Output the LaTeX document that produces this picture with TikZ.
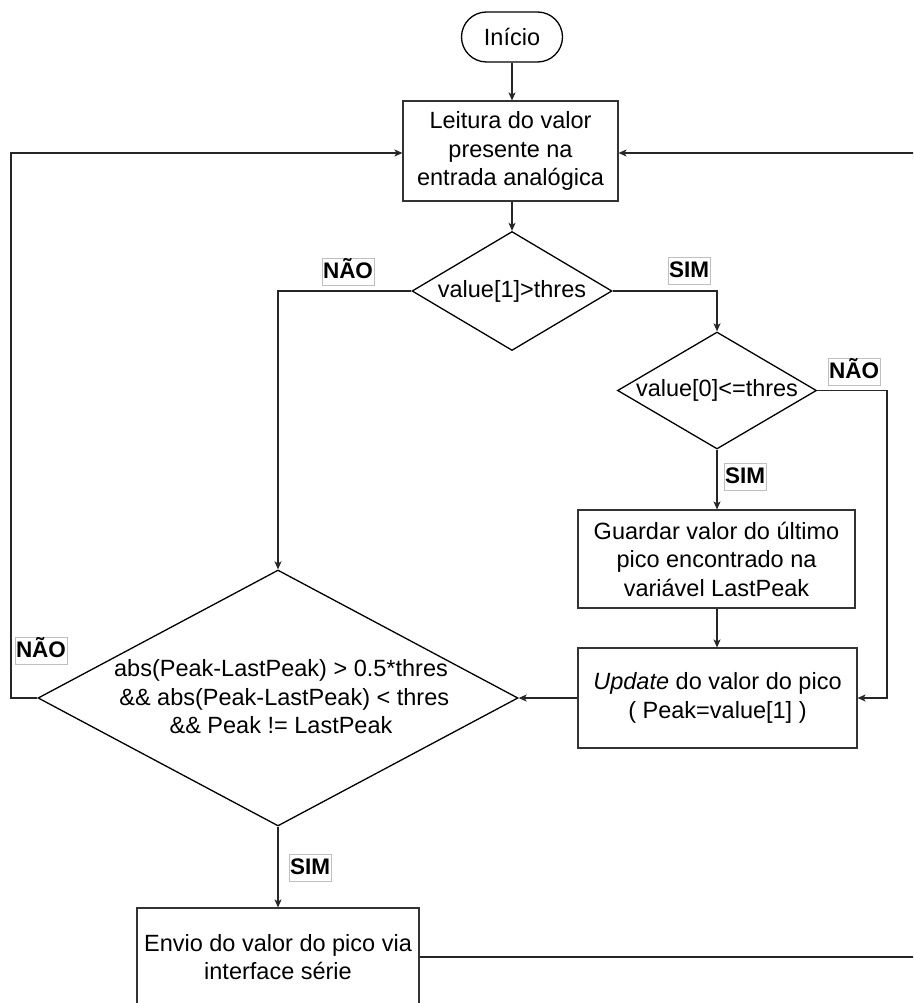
\documentclass[tikz,border=0pt]{standalone}
\usepackage{fontspec}
\setmainfont{Liberation Sans}
\usetikzlibrary{shapes.geometric,arrows.meta,calc}
\begin{document}
\begin{tikzpicture}[x=1pt,y=-1pt,
  txt/.style={font=\fontsize{23.5}{28.5}\selectfont, align=center},
  procbox/.style={draw=black!80, line width=1.1pt, rectangle, txt, inner sep=0pt},
  startbox/.style={draw=black, line width=1.3pt, rectangle, rounded corners=25pt, txt, inner sep=0pt, minimum width=101pt, minimum height=50pt},
  decbox/.style={draw=black, line width=1.3pt, diamond, inner sep=0pt},
  lbl/.style={draw=black!25, line width=0.6pt, fill=white, font=\fontsize{22.5}{26}\selectfont\bfseries, inner xsep=1.2pt, inner ysep=0pt, text height=20pt, text depth=7pt},
  conn/.style={line width=1.2pt, draw=black!85},
  arr/.style={conn, -{Stealth[length=8pt,width=7pt,inset=2pt]}}
]
\useasboundingbox (0,0) rectangle (913,1003);
\clip (0,0) rectangle (913,1003);

\node[startbox] (start) at (512,37) {Início};
\node[procbox, minimum width=215pt, minimum height=100pt] (read) at (510.5,151) {Leitura do valor\\presente na\\entrada analógica};
\node[decbox, minimum width=200pt, minimum height=119pt] (d1) at (512,291) {};
\node[txt] (d1t) at (d1) {value[1]>thres};
\node[decbox, minimum width=199pt, minimum height=117pt] (d2) at (717,390.5) {};
\node[txt] (d2t) at (d2) {value[0]<=thres};
\node[procbox, minimum width=277pt, minimum height=98pt] (save) at (716.5,559) {Guardar valor do último\\pico encontrado na\\variável LastPeak};
\node[procbox, minimum width=279pt, minimum height=100pt] (upd) at (717.5,698) {\textit{Update} do valor do pico\\( Peak=value[1] )};
\node[decbox, minimum width=480pt, minimum height=256pt] (d3) at (278,698) {};
\node[txt] (d3t) at (281,697) {abs(Peak-LastPeak) > 0.5*thres\\ \ \&\& abs(Peak-LastPeak) < thres\\\&\& Peak != LastPeak};
\node[procbox, minimum width=282pt, minimum height=98pt] (send) at (278,957) {Envio do valor do pico via\\interface série};

% connectors
\draw[arr] (start.south) -- (start.south |- read.north);
\draw[arr] (d1.north |- read.south) -- (d1.north);
\draw[arr] (d1.west) -| (d3.north);
\draw[arr] (d1.east) -| (d2.north);
\draw[arr] (d2.south) -- (save.north -| d2.south);
\coordinate (rn) at (887,390.5);
\draw[arr] (d2.east) -- (rn) |- (upd.east);
\draw[arr] (save.south -| d2.south) -- (upd.north -| d2.south);
\draw[arr] (upd.west) -- (d3.east);
\coordinate (lk) at (11,153);
\draw[arr] (d3.west) -| (lk) -- (lk -| read.west);
\draw[arr] (d3.south) -- (d3.south |- send.north);
\coordinate (rk) at (935,153);
\draw[arr] (send.east) -- (send.east -| rk) -- (rk) -- (rk -| read.east);

% labels
\node[lbl] (l1) at (348,272) {NÃO};
\node[lbl] (l2) at (689,271) {SIM};
\node[lbl] (l3) at (854,372) {NÃO};
\node[lbl] (l4) at (745,477) {SIM};
\node[lbl] (l5) at (41,651) {NÃO};
\node[lbl] (l6) at (310,868) {SIM};
\end{tikzpicture}
\end{document}
